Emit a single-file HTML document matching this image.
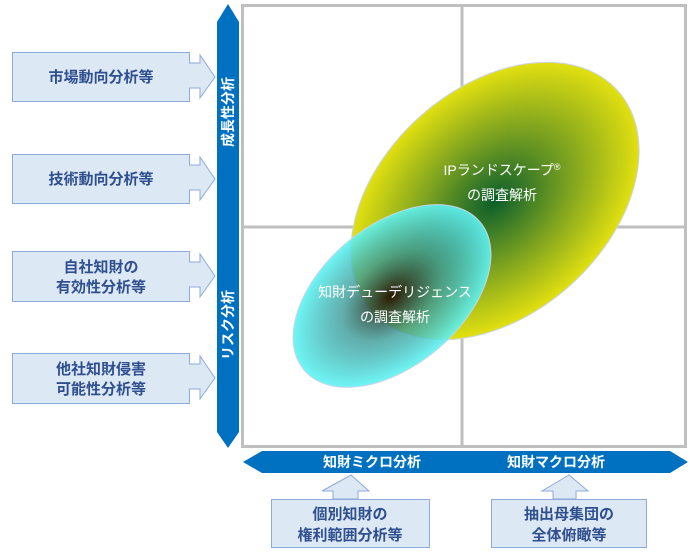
<!DOCTYPE html>
<html><head><meta charset="utf-8"><style>
body{margin:0;background:#fff;}
svg{display:block;font-family:"Liberation Sans","Noto Sans CJK JP",sans-serif;}
</style></head><body>
<svg width="692" height="554" viewBox="0 0 692 554" xmlns="http://www.w3.org/2000/svg">
<defs>
<radialGradient id="gy" cx="0.5" cy="0.5" r="0.5">
<stop offset="0" stop-color="#0b5e2c"/>
<stop offset="0.5" stop-color="#79a020"/>
<stop offset="1" stop-color="#e2e010"/>
</radialGradient>
<radialGradient id="gt" cx="0.5" cy="0.5" r="0.5">
<stop offset="0" stop-color="#2a1800" stop-opacity="1"/>
<stop offset="0.5" stop-color="#3a9a98" stop-opacity="0.8"/>
<stop offset="1" stop-color="#5ff5f5" stop-opacity="0.9"/>
</radialGradient>
</defs>
<rect x="242.5" y="5.5" width="443" height="441" fill="#fff" stroke="#bfbfbf" stroke-width="3"/>
<line x1="462" y1="5" x2="462" y2="447" stroke="#bfbfbf" stroke-width="3"/>
<line x1="242" y1="227" x2="686" y2="227" stroke="#bfbfbf" stroke-width="3"/>
<g transform="translate(495,201) rotate(-42)">
<ellipse cx="0" cy="0" rx="165" ry="113" fill="url(#gy)" stroke="#c8d4e8" stroke-width="1"/>
</g>
<g transform="translate(392,296) rotate(-40)">
<ellipse cx="0" cy="0" rx="115" ry="70" fill="url(#gt)" stroke="#c8d4e8" stroke-width="1"/>
</g>
<g fill="#fff" font-size="14" text-anchor="middle">
<text x="502" y="175">IPランドスケープ<tspan font-size="9" dy="-5">®</tspan></text>
<text x="502" y="200">の調査解析</text>
<text x="395" y="297">知財デューデリジェンス</text>
<text x="395" y="322">の調査解析</text>
</g>
<polygon points="228,4 239,22 239,432 228,448 217,432 217,22" fill="#0070c0"/>
<g fill="#fff" font-size="14" font-weight="bold" text-anchor="middle">
<text transform="translate(233,112) rotate(-90)">成長性分析</text>
<text transform="translate(233,325) rotate(-90)">リスク分析</text>
</g>
<polygon points="243,462 262,451 670,451 688,462 670,473 262,473" fill="#0070c0"/>
<g fill="#fff" font-size="14" font-weight="bold" text-anchor="middle">
<text x="372" y="467">知財ミクロ分析</text>
<text x="556" y="467">知財マクロ分析</text>
</g>
<g fill="#dde8f5" stroke="#8eaadb" stroke-width="1">
<polygon points="12.5,52.5 189.5,52.5 189.5,63 200,63 200,55 215,77 200,98 200,88 189.5,88 189.5,101.5 12.5,101.5"/>
<polygon points="12.5,154.5 189.5,154.5 189.5,165 200,165 200,157 215,179 200,200 200,190 189.5,190 189.5,203.5 12.5,203.5"/>
<polygon points="12.5,251.5 189.5,251.5 189.5,262 200,262 200,254 215,276 200,297 200,287 189.5,287 189.5,301.5 12.5,301.5"/>
<polygon points="12.5,353.5 189.5,353.5 189.5,364 200,364 200,356 215,378 200,399 200,389 189.5,389 189.5,403.5 12.5,403.5"/>
<polygon points="271.5,499.5 429.5,499.5 429.5,547.5 271.5,547.5"/>
<polygon points="491.5,499.5 646.5,499.5 646.5,547.5 491.5,547.5"/>
<polygon points="333,499 333,491 322,491 351,475 369,491 358,491 358,499"/>
<polygon points="553,499 553,491 542,491 569,475 588,491 576,491 576,499"/>
</g>
<g fill="#2f4f8f" font-size="15" font-weight="bold" text-anchor="middle">
<text x="101" y="82">市場動向分析等</text>
<text x="101" y="184">技術動向分析等</text>
<text x="101" y="272">自社知財の</text>
<text x="101" y="292">有効性分析等</text>
<text x="101" y="374">他社知財侵害</text>
<text x="101" y="394">可能性分析等</text>
<text x="350" y="519">個別知財の</text>
<text x="350" y="540">権利範囲分析等</text>
<text x="569" y="519">抽出母集団の</text>
<text x="569" y="540">全体俯瞰等</text>
</g>
</svg>
</body></html>
